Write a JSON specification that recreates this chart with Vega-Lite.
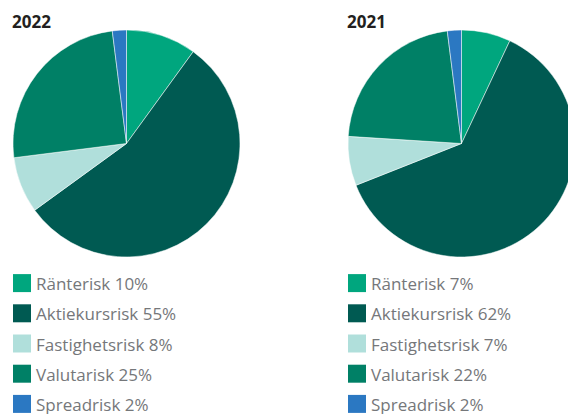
{
  "$schema": "https://vega.github.io/schema/vega-lite/v6.json",
  "padding": {"left": 12, "top": 14, "right": 0, "bottom": 0},
  "config": {"view": {"stroke": null}, "font": "Open Sans"},
  "datasets": {
    "risk": [
      {"year": 2022, "order": 1, "category": "Ränterisk", "value": 10, "label": "Ränterisk 10%"},
      {"year": 2022, "order": 2, "category": "Aktiekursrisk", "value": 55, "label": "Aktiekursrisk 55%"},
      {"year": 2022, "order": 3, "category": "Fastighetsrisk", "value": 8, "label": "Fastighetsrisk 8%"},
      {"year": 2022, "order": 4, "category": "Valutarisk", "value": 25, "label": "Valutarisk 25%"},
      {"year": 2022, "order": 5, "category": "Spreadrisk", "value": 2, "label": "Spreadrisk 2%"},
      {"year": 2021, "order": 1, "category": "Ränterisk", "value": 7, "label": "Ränterisk 7%"},
      {"year": 2021, "order": 2, "category": "Aktiekursrisk", "value": 62, "label": "Aktiekursrisk 62%"},
      {"year": 2021, "order": 3, "category": "Fastighetsrisk", "value": 7, "label": "Fastighetsrisk 7%"},
      {"year": 2021, "order": 4, "category": "Valutarisk", "value": 22, "label": "Valutarisk 22%"},
      {"year": 2021, "order": 5, "category": "Spreadrisk", "value": 2, "label": "Spreadrisk 2%"}
    ]
  },
  "spacing": 106,
  "hconcat": [
    {
      "spacing": 10,
      "vconcat": [
        {
          "title": {"text": "2022", "anchor": "start", "fontSize": 17, "fontWeight": "bold", "color": "#231f20", "offset": -3},
          "width": 227, "height": 227,
          "data": {"name": "risk"},
          "transform": [{"filter": "datum.year == 2022"}],
          "mark": {"type": "arc", "stroke": "#ffffff", "strokeWidth": 0.5},
          "encoding": {
            "theta": {"field": "value", "type": "quantitative", "stack": true},
            "order": {"field": "order", "type": "quantitative"},
            "color": {"field": "category", "type": "nominal", "legend": null,
              "scale": {"domain": ["Ränterisk", "Aktiekursrisk", "Fastighetsrisk", "Valutarisk", "Spreadrisk"],
                        "range": ["#00a67e", "#005a52", "#b0dfdb", "#008066", "#2b78c2"]}}
          }
        },
        {
          "width": 18, "height": 151,
          "data": {"name": "risk"},
          "transform": [{"filter": "datum.year == 2022"}],
          "encoding": {"y": {"field": "order", "type": "ordinal", "axis": null, "scale": {"paddingInner": 0, "paddingOuter": 0}}},
          "layer": [
            {"mark": {"type": "square", "size": 324, "filled": true, "opacity": 1},
             "encoding": {"color": {"field": "category", "type": "nominal", "legend": null,
              "scale": {"domain": ["Ränterisk", "Aktiekursrisk", "Fastighetsrisk", "Valutarisk", "Spreadrisk"],
                        "range": ["#00a67e", "#005a52", "#b0dfdb", "#008066", "#2b78c2"]}}}},
            {"mark": {"type": "text", "align": "left", "baseline": "middle", "dx": 14, "dy": 2, "fontSize": 17, "color": "#75777a"},
             "encoding": {"text": {"field": "label"}}}
          ]
        }
      ]
    },
    {
      "spacing": 10,
      "vconcat": [
        {
          "title": {"text": "2021", "anchor": "start", "fontSize": 17, "fontWeight": "bold", "color": "#231f20", "offset": -3},
          "width": 227, "height": 227,
          "data": {"name": "risk"},
          "transform": [{"filter": "datum.year == 2021"}],
          "mark": {"type": "arc", "stroke": "#ffffff", "strokeWidth": 0.5},
          "encoding": {
            "theta": {"field": "value", "type": "quantitative", "stack": true},
            "order": {"field": "order", "type": "quantitative"},
            "color": {"field": "category", "type": "nominal", "legend": null,
              "scale": {"domain": ["Ränterisk", "Aktiekursrisk", "Fastighetsrisk", "Valutarisk", "Spreadrisk"],
                        "range": ["#00a67e", "#005a52", "#b0dfdb", "#008066", "#2b78c2"]}}
          }
        },
        {
          "width": 18, "height": 151,
          "data": {"name": "risk"},
          "transform": [{"filter": "datum.year == 2021"}],
          "encoding": {"y": {"field": "order", "type": "ordinal", "axis": null, "scale": {"paddingInner": 0, "paddingOuter": 0}}},
          "layer": [
            {"mark": {"type": "square", "size": 324, "filled": true, "opacity": 1},
             "encoding": {"color": {"field": "category", "type": "nominal", "legend": null,
              "scale": {"domain": ["Ränterisk", "Aktiekursrisk", "Fastighetsrisk", "Valutarisk", "Spreadrisk"],
                        "range": ["#00a67e", "#005a52", "#b0dfdb", "#008066", "#2b78c2"]}}}},
            {"mark": {"type": "text", "align": "left", "baseline": "middle", "dx": 14, "dy": 2, "fontSize": 17, "color": "#75777a"},
             "encoding": {"text": {"field": "label"}}}
          ]
        }
      ]
    }
  ]
}
